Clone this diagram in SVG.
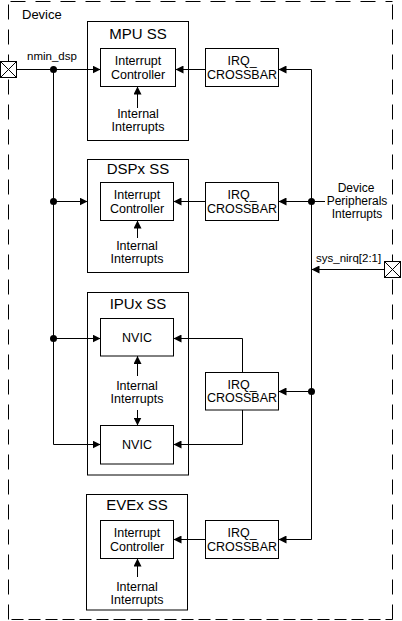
<svg xmlns="http://www.w3.org/2000/svg" width="402" height="621" viewBox="0 0 402 621">
<style>
text{font-family:"Liberation Sans",Arial,sans-serif;fill:#000}
.t{font-size:12.5px;text-anchor:middle}
.h{font-size:15px;text-anchor:middle}
.s{font-size:11.5px}
.box{fill:#fff;stroke:#000;stroke-width:1}
.ln{fill:none;stroke:#000;stroke-width:1}
.fr{stroke:#000;stroke-width:1;fill:none}
</style>
<defs>
<marker id="ah" viewBox="0 0 8 8" markerWidth="8" markerHeight="8" refX="8" refY="4" orient="auto" markerUnits="userSpaceOnUse">
<path d="M0,0 L8,4 L0,8 z" fill="#000"/>
</marker>
</defs>
<rect width="402" height="621" fill="#fff"/>
<g id="device">
<line class="fr" x1="8.5" y1="1.5" x2="392.5" y2="1.5" stroke-dasharray="15 10" stroke-dashoffset="-2"/>
<line class="fr" x1="8.5" y1="1.5" x2="8.5" y2="619.5" stroke-dasharray="15 10" stroke-dashoffset="-3"/>
<line class="fr" x1="392.5" y1="1.5" x2="392.5" y2="619.5" stroke-dasharray="15 10" stroke-dashoffset="-3"/>
<line class="fr" x1="8.5" y1="619.5" x2="392.5" y2="619.5" stroke-dasharray="12 5" stroke-dashoffset="-3"/>
<text x="22" y="18.5" style="font-size:13px">Device</text>
</g>
<g id="pad-nmin">
<rect class="box" x="0.5" y="61.5" width="16" height="16"/>
<path class="ln" d="M0.5,61.5 L16.5,77.5 M16.5,61.5 L0.5,77.5"/>
</g>
<g id="pad-sys">
<rect class="box" x="384.5" y="261.5" width="16" height="16"/>
<path class="ln" d="M384.5,261.5 L400.5,277.5 M400.5,261.5 L384.5,277.5"/>
</g>
<g id="mpu">
<rect class="box" x="87.5" y="21.5" width="101" height="119"/>
<text class="h" x="138" y="38.5">MPU SS</text>
<rect class="box" x="100.5" y="48.5" width="75" height="38"/>
<text class="t" x="138" y="65">Interrupt</text>
<text class="t" x="138" y="78.5">Controller</text>
<text class="t" x="138" y="118">Internal</text>
<text class="t" x="138" y="131">Interrupts</text>
</g>
<g id="dsp">
<rect class="box" x="87.5" y="159.5" width="101" height="113"/>
<text class="h" x="138" y="174">DSPx SS</text>
<rect class="box" x="100.5" y="182.5" width="73" height="38"/>
<text class="t" x="137" y="199">Interrupt</text>
<text class="t" x="137" y="212.5">Controller</text>
<text class="t" x="137" y="250">Internal</text>
<text class="t" x="137" y="263">Interrupts</text>
</g>
<g id="ipu">
<rect class="box" x="87.5" y="292.5" width="101" height="182.5"/>
<text class="h" x="138" y="309">IPUx SS</text>
<rect class="box" x="100.5" y="318.5" width="73" height="37.5"/>
<text class="t" x="137" y="342">NVIC</text>
<rect class="box" x="100.5" y="425.5" width="73" height="38.5"/>
<text class="t" x="137" y="448.5">NVIC</text>
<text class="t" x="137" y="390">Internal</text>
<text class="t" x="137" y="403">Interrupts</text>
</g>
<g id="eve">
<rect class="box" x="86.5" y="494.5" width="101" height="115.5"/>
<text class="h" x="137" y="510">EVEx SS</text>
<rect class="box" x="100.5" y="520.5" width="73" height="38"/>
<text class="t" x="137" y="537">Interrupt</text>
<text class="t" x="137" y="550.5">Controller</text>
<text class="t" x="137" y="591">Internal</text>
<text class="t" x="137" y="603.5">Interrupts</text>
</g>
<g id="irq-mpu">
<rect class="box" x="205.5" y="48.5" width="73" height="38"/>
<text class="t" x="242" y="65">IRQ_</text>
<text class="t" x="242" y="78.5">CROSSBAR</text>
</g>
<g id="irq-dsp">
<rect class="box" x="205.5" y="182.5" width="73" height="38"/>
<text class="t" x="242" y="199">IRQ_</text>
<text class="t" x="242" y="212.5">CROSSBAR</text>
</g>
<g id="irq-ipu">
<rect class="box" x="205.5" y="372.5" width="73" height="37.5"/>
<text class="t" x="242" y="388.5">IRQ_</text>
<text class="t" x="242" y="402">CROSSBAR</text>
</g>
<g id="irq-eve">
<rect class="box" x="205.5" y="520.5" width="73" height="38"/>
<text class="t" x="242" y="537">IRQ_</text>
<text class="t" x="242" y="550.5">CROSSBAR</text>
</g>
<g id="labels">
<text class="s" x="27" y="60">nmin_dsp</text>
<text class="s" x="316" y="262">sys_nirq[2:1]</text>
<text x="356" y="192" style="font-size:12px;text-anchor:middle">Device</text>
<text x="357" y="205" style="font-size:12px;text-anchor:middle">Peripherals</text>
<text x="357" y="218" style="font-size:12px;text-anchor:middle">Interrupts</text>
</g>
<g id="connectors">
<line class="ln" x1="16.5" y1="69.5" x2="100.5" y2="69.5" marker-end="url(#ah)"/>
<polyline class="ln" points="53.5,69.5 53.5,444.5 100.5,444.5" marker-end="url(#ah)"/>
<line class="ln" x1="53.5" y1="201.5" x2="87.5" y2="201.5" marker-end="url(#ah)"/>
<line class="ln" x1="53.5" y1="338.5" x2="100.5" y2="338.5" marker-end="url(#ah)"/>
<circle cx="53.5" cy="69.5" r="3.5"/>
<circle cx="53.5" cy="201.5" r="3.5"/>
<circle cx="53.5" cy="338.5" r="3.5"/>
<line class="ln" x1="137.5" y1="108" x2="137.5" y2="86.5" marker-end="url(#ah)"/>
<line class="ln" x1="137.5" y1="238" x2="137.5" y2="220.5" marker-end="url(#ah)"/>
<line class="ln" x1="137.5" y1="376" x2="137.5" y2="356" marker-end="url(#ah)"/>
<line class="ln" x1="137.5" y1="410" x2="137.5" y2="425.5" marker-end="url(#ah)"/>
<line class="ln" x1="137.5" y1="577" x2="137.5" y2="558.5" marker-end="url(#ah)"/>
<line class="ln" x1="205.5" y1="69.5" x2="175.5" y2="69.5" marker-end="url(#ah)"/>
<line class="ln" x1="205.5" y1="201.5" x2="173.5" y2="201.5" marker-end="url(#ah)"/>
<polyline class="ln" points="242.5,372.5 242.5,338.5 173.5,338.5" marker-end="url(#ah)"/>
<polyline class="ln" points="242.5,410 242.5,444.5 173.5,444.5" marker-end="url(#ah)"/>
<line class="ln" x1="205.5" y1="539.5" x2="173.5" y2="539.5" marker-end="url(#ah)"/>
<line class="ln" x1="311.5" y1="69.5" x2="311.5" y2="539.5"/>
<line class="ln" x1="311.5" y1="69.5" x2="278.5" y2="69.5" marker-end="url(#ah)"/>
<line class="ln" x1="311.5" y1="201.5" x2="278.5" y2="201.5" marker-end="url(#ah)"/>
<line class="ln" x1="311.5" y1="391.5" x2="278.5" y2="391.5" marker-end="url(#ah)"/>
<line class="ln" x1="311.5" y1="539.5" x2="278.5" y2="539.5" marker-end="url(#ah)"/>
<circle cx="311.5" cy="201.5" r="3.5"/>
<circle cx="311.5" cy="391.5" r="3.5"/>
<line class="ln" x1="311.5" y1="201.5" x2="325" y2="201.5"/>
<line class="ln" x1="384.5" y1="269.5" x2="311.5" y2="269.5" marker-end="url(#ah)"/>
</g>
</svg>
